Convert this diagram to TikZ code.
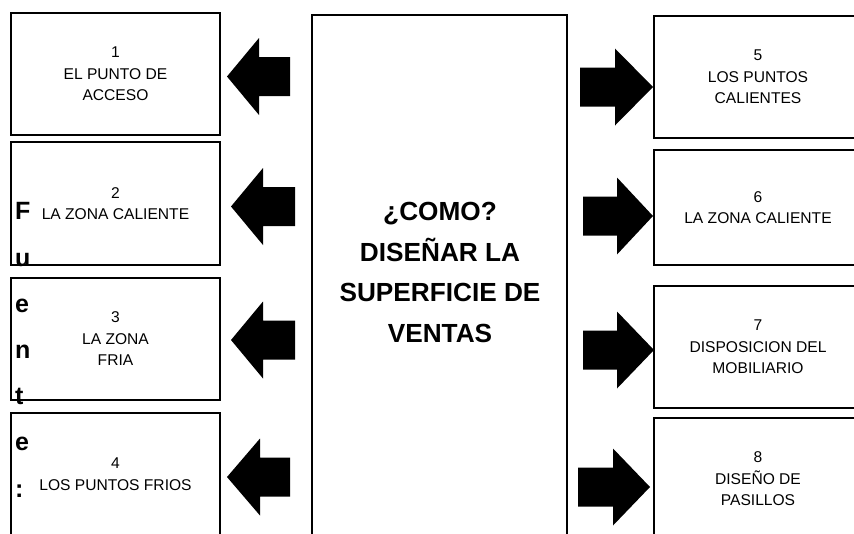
\documentclass[tikz,border=0pt]{standalone}
\usepackage{fontspec}
\setmainfont{Liberation Sans}
\newcommand\blockarrow[4]{%
  \fill[black] (#1,#2) -- (#3,#2-38.5) -- (#3,#2-19.5) -- (#4,#2-19.5) -- (#4,#2+19.5) -- (#3,#2+19.5) -- (#3,#2+38.5) -- cycle;}
\begin{document}
\begin{tikzpicture}[x=1pt,y=-1pt,
  box/.style={draw=black,line width=2pt,fill=white,minimum width=209pt,minimum height=122pt,inner sep=0pt,align=center,font=\fontsize{15.6}{21.5}\selectfont},
  bigtext/.style={align=center,inner sep=0pt,font=\bfseries\fontsize{26.2}{40.5}\selectfont},
  srctext/.style={align=left,inner sep=0pt,anchor=base west,font=\bfseries\fontsize{25}{46.2}\selectfont}]
\useasboundingbox (0,0) rectangle (854,533);
\clip (0,0) rectangle (854,533);
\fill[white] (0,0) rectangle (854,533);
% left boxes
\node[box] (b1) at (115.5,74) {1\\EL PUNTO DE\\ACCESO};
\node[box,minimum height=123pt] (b2) at (115.5,203.5) {2\\LA ZONA CALIENTE};
\node[box] (b3) at (115.5,339) {3\\LA ZONA\\FRIA};
\node[box] (b4) at (115.5,474) {4\\LOS PUNTOS FRIOS};
% right boxes
\node[box] (b5) at (758,77) {5\\LOS PUNTOS\\CALIENTES};
\node[box,minimum height=115pt] (b6) at (758,207.5) {6\\LA ZONA CALIENTE};
\node[box] (b7) at (758,347) {7\\DISPOSICION DEL\\MOBILIARIO};
\node[box] (b8) at (758,479) {8\\DISEÑO DE\\PASILLOS};
% centre box
\node[draw=black,line width=2pt,minimum width=255pt,minimum height=560pt,inner sep=0pt] (c) at (439.5,295) {};
\node[bigtext] (ct) at (440,272.5) {¿COMO?\\DISEÑAR LA\\SUPERFICIE DE\\VENTAS};
% arrows
\blockarrow{227}{76.5}{259}{290}
\blockarrow{231}{206.5}{263}{295}
\blockarrow{231}{340}{263}{295}
\blockarrow{227}{477}{260}{290}
\blockarrow{653}{87}{615}{580}
\blockarrow{653}{216}{617}{583}
\blockarrow{654}{350}{617}{583}
\blockarrow{650}{487}{613}{578}
% source text
\node[srctext] (src) at (15,497) {F\\u\\e\\n\\t\\e\\:};
\end{tikzpicture}
\end{document}
